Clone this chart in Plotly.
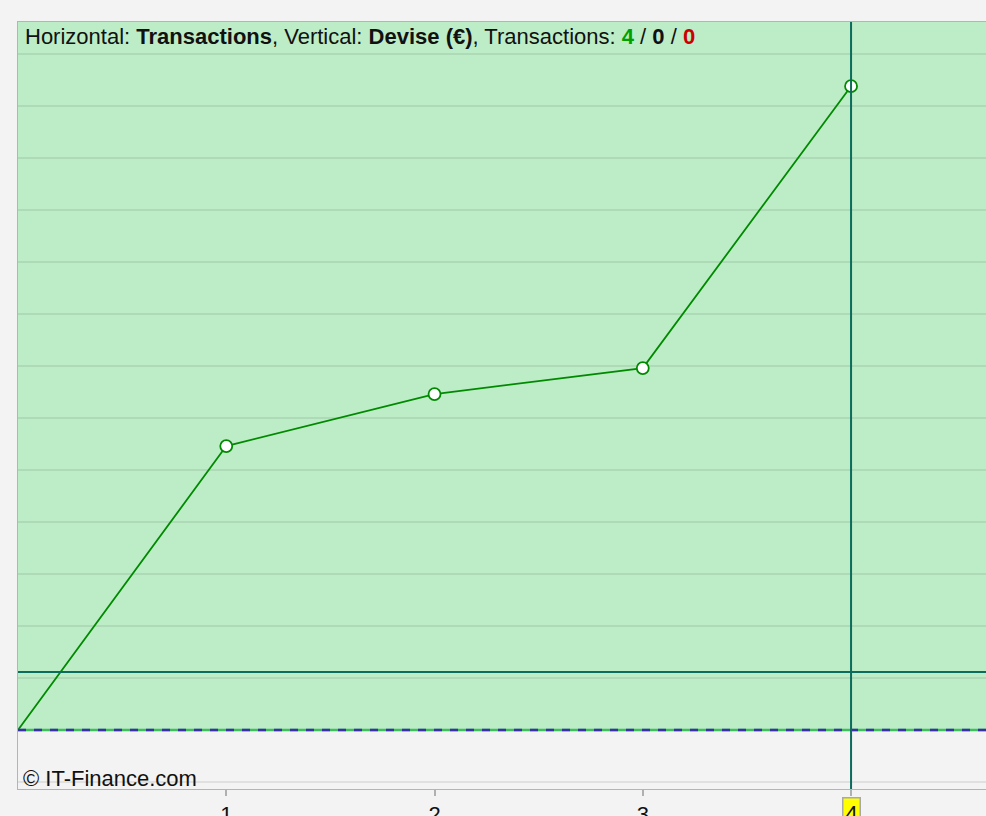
import plotly.graph_objects as go

# Data
transactions = [0, 1, 2, 3, 4]
devise = [0, 5.46, 6.46, 6.96, 12.38]
tick_vals = [1, 2, 3, 4]
tick_text = ["1", "2", "3", ""]
cursor_x = 4
cursor_y = 1.115
counts = ["4", "0", "0"]

x_range = [0, 4.648]
y_range = [-1.135, 13.615]
grid_step = 1

FONT = "Liberation Sans, Arial, sans-serif"

fig = go.Figure()

fig.add_trace(go.Scatter(
    x=transactions, y=devise, mode="lines",
    line=dict(color="#008a00", width=1.8),
    showlegend=False, hoverinfo="skip",
))
fig.add_trace(go.Scatter(
    x=transactions[1:], y=devise[1:], mode="markers",
    marker=dict(size=12, color="white", line=dict(color="#008a00", width=1.8)),
    showlegend=False, hoverinfo="skip",
))

shapes = [
    dict(type="rect", xref="paper", yref="y", x0=0, x1=1, y0=0, y1=y_range[1],
         fillcolor="#bdedc7", line=dict(width=0), layer="below"),
    dict(type="line", xref="paper", yref="y", x0=0, x1=1, y0=0, y1=0,
         line=dict(color="#3cc05a", width=2.5), layer="above"),
    dict(type="line", xref="paper", yref="y", x0=0, x1=1, y0=0, y1=0,
         line=dict(color="#3a2fa8", width=2.5, dash="8px,8px"), layer="above"),
    dict(type="line", xref="paper", yref="y", x0=0, x1=1, y0=cursor_y, y1=cursor_y,
         line=dict(color="#0b6b5c", width=2), layer="above"),
    dict(type="line", xref="x", yref="paper", x0=cursor_x, x1=cursor_x, y0=0, y1=1,
         line=dict(color="#0b6b5c", width=2), layer="above"),
]

title_html = (
    "Horizontal: <b>Transactions</b>, Vertical: <b>Devise (€)</b>, Transactions: "
    f"<b><span style='color:#00a000'>{counts[0]}</span></b> / "
    f"<b>{counts[1]}</b> / "
    f"<b><span style='color:#cc0000'>{counts[2]}</span></b>"
)

annotations = [
    dict(text=title_html, xref="paper", yref="paper", x=0.005, y=1.0,
         xanchor="left", yanchor="top", yshift=0, showarrow=False,
         font=dict(family=FONT, size=22, color="#111111")),
    dict(text="© IT-Finance.com", xref="paper", yref="y", x=0.003, y=-0.94,
         xanchor="left", yanchor="middle", showarrow=False,
         font=dict(family=FONT, size=22, color="#111111")),
    dict(text="4", xref="x", yref="paper", x=cursor_x, y=0, yshift=-8,
         xanchor="center", yanchor="top", showarrow=False,
         bgcolor="#ffff00", bordercolor="#a8a8a8", borderwidth=1.5, borderpad=2,
         font=dict(family=FONT, size=22, color="#111111")),
]

fig.update_layout(
    width=986, height=816,
    margin=dict(l=18, r=0, t=22, b=27, autoexpand=False),
    paper_bgcolor="#f3f3f3", plot_bgcolor="#f3f3f3",
    shapes=shapes, annotations=annotations,
    xaxis=dict(range=x_range, tickvals=tick_vals, ticktext=tick_text,
               showgrid=False, zeroline=False, ticks="outside", ticklen=6,
               tickcolor="#b0b0b0", tickwidth=2, automargin=False,
               showline=True, linecolor="#b4b4b4", linewidth=1, mirror=True,
               tickfont=dict(family=FONT, size=22, color="#111111")),
    yaxis=dict(range=y_range, dtick=grid_step, tick0=0, showticklabels=False,
               automargin=False,
               showgrid=True, gridcolor="rgba(0,0,0,0.08)", gridwidth=1.5, zeroline=False,
               showline=True, linecolor="#b4b4b4", linewidth=1, mirror=True),
)

fig.write_html(
    "out.html",
    config={"displayModeBar": False},
    post_script="document.body.style.margin='0';document.body.style.overflow='hidden';"
)
